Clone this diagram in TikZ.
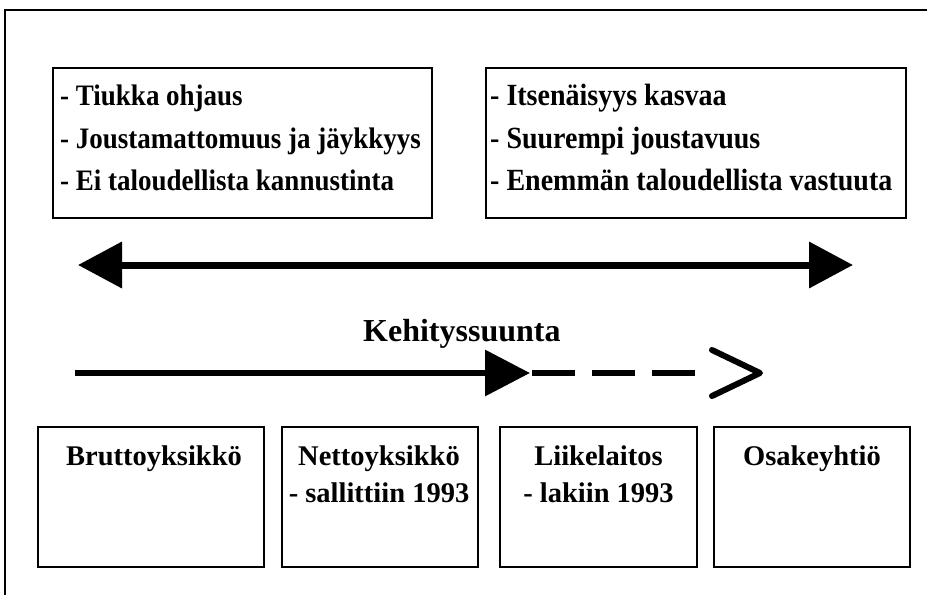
\documentclass[tikz,border=0pt]{standalone}
\usepackage{fontspec}
\setmainfont{Liberation Serif}
\usetikzlibrary{arrows.meta}
\newcommand{\tallt}[1]{\scalebox{1}[1.1]{#1}}
\begin{document}
\begin{tikzpicture}[x=1pt,y=-1pt,
  frame/.style={line width=2pt},
  box/.style={draw, line width=1.5pt, rectangle, inner sep=0pt},
  ltxt/.style={font=\fontsize{27}{32}\selectfont\bfseries, inner sep=0pt, anchor=base west},
  rtxt/.style={font=\fontsize{28}{32}\selectfont\bfseries, inner sep=0pt, anchor=base west},
  btxt/.style={font=\fontsize{28.5}{37}\selectfont\bfseries, inner sep=0pt, anchor=base},
  bigtxt/.style={font=\fontsize{32}{36}\selectfont\bfseries, inner sep=0pt, anchor=base west},
  dbl arrow/.style={line width=7pt, {Triangle[length=44pt,width=45pt]}-{Triangle[length=44pt,width=45pt]}}]
\useasboundingbox (0,0) rectangle (927,595);
% outer frame (top and left edges only visible)
\coordinate (fa) at (5,595);
\coordinate (fb) at (5,10);
\coordinate (fc) at (927,10);
\draw[frame] (fa) -- (fb) -- (fc);
% top boxes
\node[box, minimum width=379pt, minimum height=150pt] (tl) at (242.5,143) {};
\node[box, minimum width=420pt, minimum height=150pt] (tr) at (696,143) {};
\node[ltxt] (tl1) at (60,105) {\tallt{- Tiukka ohjaus}};
\node[ltxt] (tl2) at (60,148) {\tallt{- Joustamattomuus ja jäykkyys}};
\node[ltxt] (tl3) at (60,190) {\tallt{- Ei taloudellista kannustinta}};
\node[rtxt] (tr1) at (490,105) {\tallt{- Itsenäisyys kasvaa}};
\node[rtxt] (tr2) at (490,148) {\tallt{- Suurempi joustavuus}};
\node[rtxt] (tr3) at (490,190) {\tallt{- Enemmän taloudellista vastuuta}};
% double arrow
\coordinate (dl) at (78,265);
\coordinate (dr) at (853,265);
\draw[dbl arrow] (dl) -- (dr);
% title
\node[bigtxt] (title) at (363,341) {Kehityssuunta};
% development arrow
\coordinate (a0) at (75,373);
\coordinate (a1) at (530,373);
\coordinate (d0) at (532,373);
\coordinate (d1) at (695,373);
\coordinate (h0) at (712,350);
\coordinate (h1) at (760,373);
\coordinate (h2) at (712,396);
\draw[line width=6.5pt, -{Triangle[length=45pt,width=45pt]}] (a0) -- (a1);
\draw[line width=6.5pt, dash pattern=on 43pt off 17pt] (d0) -- (d1);
\draw[line width=6pt, line cap=round, line join=round] (h0) -- (h1) -- (h2);
% bottom boxes
\node[box, minimum width=226pt, minimum height=140pt] (b1) at (151,497) {};
\node[box, minimum width=196pt, minimum height=140pt] (b2) at (380,497) {};
\node[box, minimum width=197pt, minimum height=140pt] (b3) at (598.5,497) {};
\node[box, minimum width=196pt, minimum height=140pt] (b4) at (812,497) {};
\node[btxt] (b1t) at (154,465) {Bruttoyksikkö};
\node[btxt] (b2a) at (379,465) {Nettoyksikkö};
\node[btxt] (b2b) at (379,502) {- sallittiin 1993};
\node[btxt] (b3a) at (598.5,465) {Liikelaitos};
\node[btxt] (b3b) at (598.5,502) {- lakiin 1993};
\node[btxt] (b4t) at (812,465) {Osakeyhtiö};
\end{tikzpicture}
\end{document}
